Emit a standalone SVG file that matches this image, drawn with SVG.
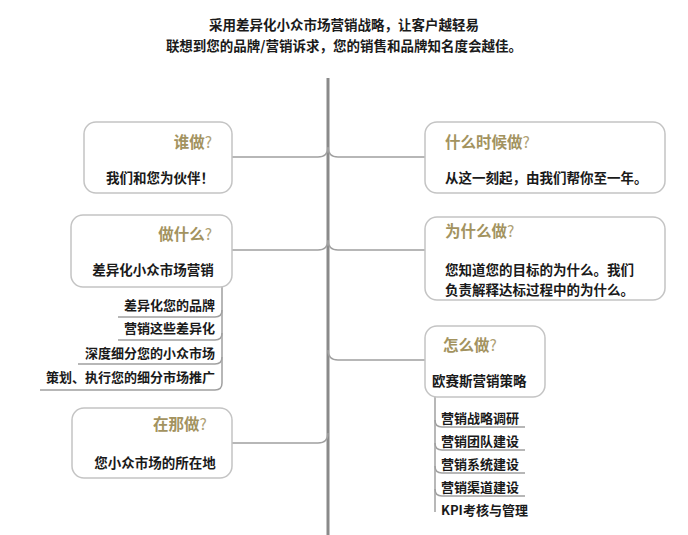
<svg xmlns="http://www.w3.org/2000/svg" width="688" height="535" viewBox="0 0 688 535">
<style>
text{font-family:"Noto Sans CJK SC","Liberation Sans",sans-serif;font-weight:bold;fill:#1a1a1a}
.box{fill:#fff;stroke:#c4c4c4;stroke-width:1.5}
.t{font-size:15.5px;fill:#a3935f}
.q{font-weight:normal;fill:#b0a276}
.b{font-size:13.5px}
.s{font-size:13px}
.ln{fill:none;stroke:#a0a0a0;stroke-width:1.5}
.sp{fill:none;stroke:#8a8a8a;stroke-width:3}
</style>
<rect width="688" height="535" fill="#fff"/>
<text x="344" y="30" text-anchor="middle" font-size="13.5">采用差异化小众市场营销战略，让客户越轻易</text>
<text x="344" y="51" text-anchor="middle" font-size="13.5">联想到您的品牌/营销诉求，您的销售和品牌知名度会越佳。</text>
<g id="connectors">
<path class="sp" d="M328 78V535"/>
<path class="ln" d="M232 157H318Q328 157 328 147M328 147Q328 157 338 157H425"/>
<path class="ln" d="M232 250H318Q328 250 328 240M328 240Q328 250 338 250H425"/>
<path class="ln" d="M232 443H318Q328 443 328 433"/>
<path class="ln" d="M328 350Q328 360 338 360H425"/>
<path class="ln" d="M222 287V383Q222 390 215 390H40"/>
<path class="ln" d="M222 310Q222 317 215 317H118M222 333Q222 340 215 340H118M222 357Q222 364 215 364H78"/>
<path class="ln" d="M435 397V512"/>
<path class="ln" d="M435 420Q435 427 442 427H525M435 443Q435 450 442 450H525M435 466Q435 473 442 473H525M435 489Q435 496 442 496H525"/>
</g>
<g id="who"><rect class="box" x="84" y="122" width="148" height="71" rx="12"/><text class="t" x="212" y="148" text-anchor="end">谁做<tspan class="q">?</tspan></text><text class="b" x="160" y="183" text-anchor="middle">我们和您为伙伴！</text></g>
<g id="what"><rect class="box" x="71" y="215" width="161" height="72" rx="12"/><text class="t" x="212" y="240" text-anchor="end">做什么<tspan class="q">?</tspan></text><text class="b" x="153" y="275" text-anchor="middle">差异化小众市场营销</text></g>
<g id="what-items">
<text class="s" x="215" y="310" text-anchor="end">差异化您的品牌</text>
<text class="s" x="215" y="333" text-anchor="end">营销这些差异化</text>
<text class="s" x="215" y="358" text-anchor="end">深度细分您的小众市场</text>
<text class="s" x="215" y="382" text-anchor="end">策划、执行您的细分市场推广</text>
</g>
<g id="where"><rect class="box" x="72" y="408" width="160" height="70" rx="12"/><text class="t" x="180" y="430" text-anchor="middle">在那做<tspan class="q">?</tspan></text><text class="b" x="155" y="468" text-anchor="middle">您小众市场的所在地</text></g>
<g id="when"><rect class="box" x="425" y="122" width="240" height="71" rx="12"/><text class="t" x="445" y="148">什么时候做<tspan class="q">?</tspan></text><text class="b" x="445" y="183">从这一刻起，由我们帮你至一年。</text></g>
<g id="why"><rect class="box" x="425" y="217" width="240" height="83" rx="12"/><text class="t" x="445" y="237">为什么做<tspan class="q">?</tspan></text><text class="b" x="445" y="275">您知道您的目标的为什么。我们</text><text class="b" x="445" y="295">负责解释达标过程中的为什么。</text></g>
<g id="how"><rect class="box" x="425" y="326" width="120" height="71" rx="12"/><text class="t" x="443" y="351">怎么做<tspan class="q">?</tspan></text><text class="b" x="432" y="386">欧赛斯营销策略</text></g>
<g id="how-items">
<text class="s" x="441" y="423">营销战略调研</text>
<text class="s" x="441" y="446">营销团队建设</text>
<text class="s" x="441" y="469">营销系统建设</text>
<text class="s" x="441" y="492">营销渠道建设</text>
<text class="s" x="441" y="515">KPI考核与管理</text>
</g>
</svg>
